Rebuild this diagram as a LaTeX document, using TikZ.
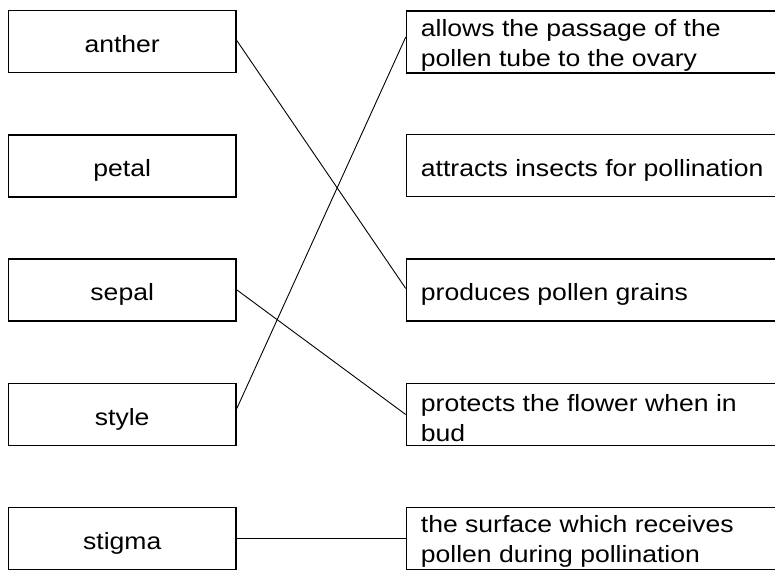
\documentclass[tikz,border=0pt]{standalone}
\usepackage{fontspec}
\setmainfont{Liberation Sans}[FakeStretch=1.13]
\begin{document}
\begin{tikzpicture}[x=1pt,y=-1pt,
  box/.style={draw, line width=1.6pt, rectangle, inner sep=0pt, minimum height=62pt},
  lbox/.style={box, minimum width=227.7pt},
  rbox/.style={box, minimum width=420pt, anchor=west},
  conn/.style={line width=0.9pt},
  txt/.style={inner sep=0pt, font=\fontsize{23.5}{30}\selectfont}]
\clip (0,0) rectangle (775,570);
% left boxes
\node[lbox] (anther) at (122.2,41.6) {};
\node[lbox] (petal)  at (122.2,165.9) {};
\node[lbox] (sepal)  at (122.2,289.9) {};
\node[lbox] (style)  at (122.2,414.4) {};
\node[lbox] (stigma) at (122.2,538.5) {};
% right boxes
\node[rbox] (r1) at (405.7,42.1) {};
\node[rbox] (r2) at (405.7,165.6) {};
\node[rbox] (r3) at (405.7,289.9) {};
\node[rbox] (r4) at (405.7,414.5) {};
\node[rbox] (r5) at (405.7,538.5) {};
% left labels
\node[txt, anchor=base] at ([yshift=-10.6pt]anther.center) {anther};
\node[txt, anchor=base] at ([yshift=-10.6pt]petal.center) {petal};
\node[txt, anchor=base] at ([yshift=-10.6pt]sepal.center) {sepal};
\node[txt, anchor=base] at ([yshift=-10.6pt]style.center) {style};
\node[txt, anchor=base] at ([yshift=-10.6pt]stigma.center) {stigma};
% right labels
\node[txt, anchor=base west] at ([xshift=15pt,yshift=-26.5pt]r1.north west)
  {\begin{tabular}[t]{@{}l@{}}allows the passage of the\\pollen tube to the ovary\end{tabular}};
\node[txt, anchor=base west] at ([xshift=15pt,yshift=-10.6pt]r2.west) {attracts insects for pollination};
\node[txt, anchor=base west] at ([xshift=15pt,yshift=-10.6pt]r3.west) {produces pollen grains};
\node[txt, anchor=base west] at ([xshift=15pt,yshift=-28.5pt]r4.north west)
  {\begin{tabular}[t]{@{}l@{}}protects the flower when in\\bud\end{tabular}};
\node[txt, anchor=base west] at ([xshift=15pt,yshift=-25.5pt]r5.north west)
  {\begin{tabular}[t]{@{}l@{}}the surface which receives\\pollen during pollination\end{tabular}};
% connectors
\draw[conn] ([yshift=1pt]anther.east) -- ([yshift=1.5pt]r3.west);
\draw[conn] ([yshift=6pt]style.east) -- ([yshift=5pt]r1.west);
\draw[conn] (sepal.east) -- (r4.west);
\draw[conn] (stigma.east) -- (r5.west);
\end{tikzpicture}
\end{document}
